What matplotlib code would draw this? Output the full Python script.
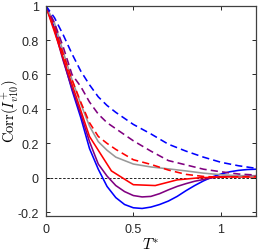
import matplotlib
matplotlib.use("Agg")
import matplotlib.pyplot as plt

plt.rcParams["font.family"] = ["Liberation Sans", "DejaVu Sans"]
plt.rcParams["mathtext.fontset"] = "cm"

# time lags (T*)
t_fine = [0, 0.05, 0.1, 0.15, 0.2, 0.25, 0.3, 0.35, 0.4, 0.45, 0.5, 0.55, 0.6,
          0.65, 0.7, 0.75, 0.8, 0.85, 0.9, 0.95, 1.0, 1.05, 1.1, 1.15, 1.2]
t_mid  = [0, 0.05, 0.1, 0.15, 0.2, 0.25, 0.3, 0.35, 0.4, 0.5, 0.6,
          0.7, 0.8, 0.9, 1.0, 1.1, 1.2]
t_red  = [0, 0.125, 0.25, 0.375, 0.5, 0.625, 0.75, 0.875, 1.0, 1.125, 1.2]

blue_solid   = [1, 0.87, 0.69, 0.51, 0.35, 0.17, 0.05, -0.05, -0.115, -0.155,
                -0.174, -0.178, -0.17, -0.155, -0.135, -0.108, -0.075, -0.045,
                -0.018, 0.005, 0.022, 0.035, 0.043, 0.048, 0.05]
purple_solid = [1, 0.86, 0.68, 0.52, 0.37, 0.21, 0.08, 0.01, -0.045, -0.08,
                -0.103, -0.111, -0.108, -0.092, -0.07, -0.05, -0.034, -0.02,
                -0.01, 0.0, 0.007, 0.01, 0.012, 0.012, 0.012]
red_solid    = [1, 0.62, 0.24, 0.04, -0.04, -0.045, -0.012, 0.0, 0.005, 0.005, 0.005]

gray_solid   = [1, 0.9, 0.73, 0.57, 0.43, 0.30, 0.21, 0.16, 0.12, 0.08, 0.063,
                0.052, 0.04, 0.027, 0.018, 0.012, 0.01]
red_dash     = [1, 0.88, 0.72, 0.57, 0.44, 0.32, 0.24, 0.2, 0.165, 0.105, 0.078,
                0.045, 0.02, 0.008, 0.003, 0.006, 0.007]
purple_dash  = [1, 0.9, 0.76, 0.60, 0.53, 0.44, 0.37, 0.32, 0.285, 0.215, 0.155,
                0.1, 0.075, 0.05, 0.035, 0.022, 0.016]
blue_dash    = [1, 0.93, 0.83, 0.72, 0.62, 0.54, 0.47, 0.42, 0.38, 0.31, 0.255,
                0.195, 0.155, 0.12, 0.09, 0.07, 0.055]

fig = plt.figure(figsize=(2.61, 2.53), dpi=100)
ax = fig.add_axes([0.175, 0.1435, 0.806, 0.8305])

lw = 1.15
dash = (0, (4.5, 2.6))
ax.axhline(0, color="k", lw=0.6, linestyle=(0, (3, 2)))
ax.plot(t_fine, blue_solid, color="#0000ff", lw=lw)
ax.plot(t_fine, purple_solid, color="#800080", lw=lw)
ax.plot(t_red, red_solid, color="#ff0000", lw=lw)
ax.plot(t_mid, gray_solid, color="#999999", lw=lw)
ax.plot(t_mid, red_dash, color="#ff0000", lw=lw, linestyle=dash)
ax.plot(t_mid, purple_dash, color="#800080", lw=lw, linestyle=dash)
ax.plot(t_mid, blue_dash, color="#0000ff", lw=lw, linestyle=dash)

ax.set_xlim(0, 1.2)
ax.set_ylim(-0.22, 1)
ax.set_xticks([0, 0.5, 1])
ax.set_xticklabels(["0", "0.5", "1"])
ax.set_yticks([-0.2, 0, 0.2, 0.4, 0.6, 0.8, 1])
ax.set_yticklabels(["-0.2", "0", "0.2", "0.4", "0.6", "0.8", "1"])
ax.tick_params(direction="in", top=True, right=True, length=3, width=0.7,
               labelsize=9, colors="#262626", pad=5)
for s in ax.spines.values():
    s.set_color("#404040")
    s.set_linewidth(0.9)

ax.set_xlabel(r"$T^{*}$", fontsize=11, labelpad=1)
ax.set_ylabel(r"$\mathrm{Corr}(I^{+}_{v10})$", fontsize=10.5)
ax.yaxis.set_label_coords(-0.118, 0.5)

fig.savefig("out.png", dpi=100)
